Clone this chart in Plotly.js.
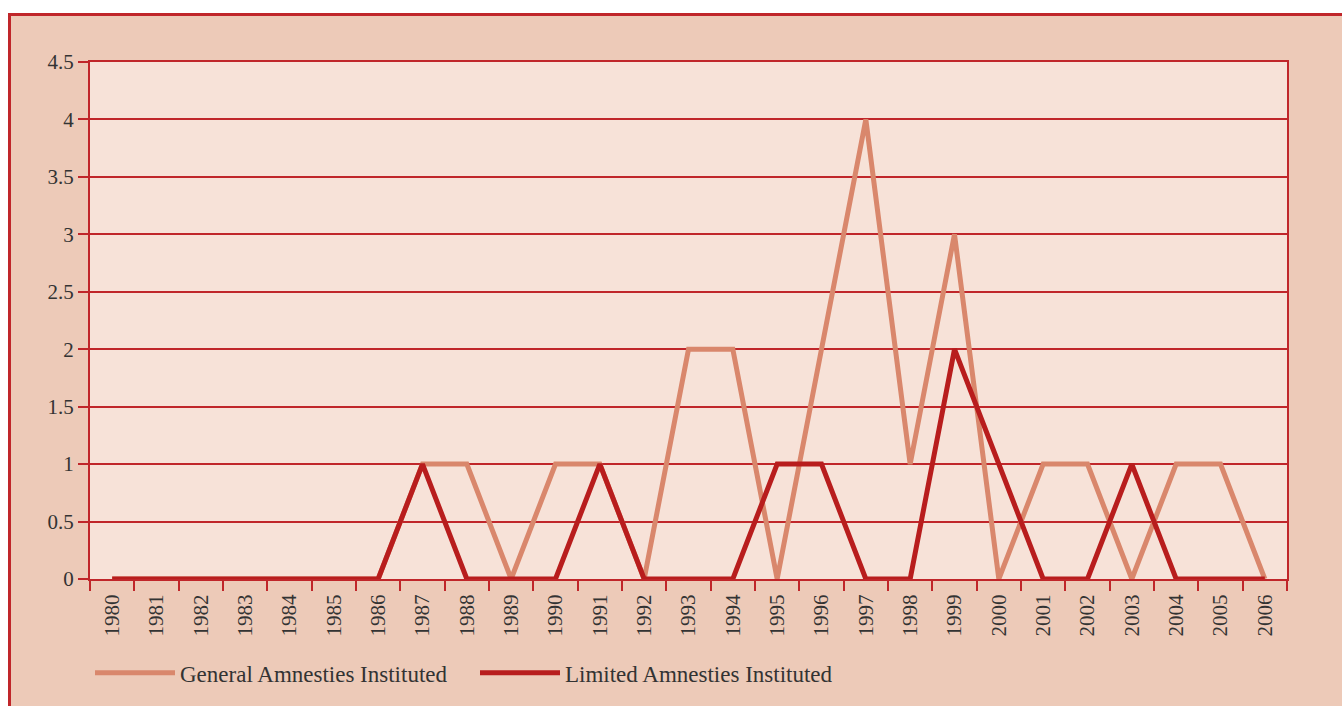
<!DOCTYPE html>
<html>
<head>
<meta charset="utf-8">
<script src="https://cdn.plot.ly/plotly-3.0.1.min.js"></script>
<style>
  html, body { margin: 0; padding: 0; background: #ffffff; width: 1342px; height: 706px; overflow: hidden; }
  #frame { position: absolute; left: 8px; top: 13px; width: 1400px; height: 760px;
           background: #edcab8; border-top: 3px solid #c0262a; border-left: 3px solid #c0262a; box-sizing: border-box; }
  #chart { position: absolute; left: 0; top: 0; width: 1342px; height: 706px; }
</style>
</head>
<body>
<div id="frame"></div>
<div id="chart"></div>
<script>
const years = ['1980','1981','1982','1983','1984','1985','1986','1987','1988','1989','1990','1991','1992','1993','1994','1995','1996','1997','1998','1999','2000','2001','2002','2003','2004','2005','2006'];
const generalAmnesties = [0,0,0,0,0,0,0,1,1,0,1,1,0,2,2,0,2,4,1,3,0,1,1,0,1,1,0];
const limitedAmnesties = [0,0,0,0,0,0,0,1,0,0,0,1,0,0,0,1,1,0,0,2,1,0,0,1,0,0,0];
const yTicks = [0,0.5,1,1.5,2,2.5,3,3.5,4,4.5];

const serif = 'Liberation Serif, DejaVu Serif, serif';
const red = '#c0262a';

const traces = [
  { x: years, y: generalAmnesties, type: 'scatter', mode: 'lines', name: 'General Amnesties Instituted',
    line: { color: '#d9876c', width: 5 } },
  { x: years, y: limitedAmnesties, type: 'scatter', mode: 'lines', name: 'Limited Amnesties Instituted',
    line: { color: '#b81d1d', width: 5 } }
];

const layout = {
  width: 1342, height: 706,
  margin: { l: 90, r: 55, t: 62, b: 125 },
  paper_bgcolor: 'rgba(0,0,0,0)',
  plot_bgcolor: '#f7e2d8',
  showlegend: true,
  legend: { orientation: 'h', x: 0.0, xanchor: 'left', y: -0.14, yanchor: 'top',
            bgcolor: 'rgba(0,0,0,0)', itemwidth: 80, entrywidth: 290, entrywidthmode: 'pixels',
            font: { family: serif, size: 23, color: '#333333' } },
  xaxis: { type: 'category', tickvals: years, ticktext: years, tickson: 'boundaries',
           range: [-0.5, years.length - 0.5],
           ticks: 'outside', ticklen: 10, tickwidth: 2, tickcolor: red, ticklabelstandoff: 5,
           tickangle: -90, tickfont: { family: serif, size: 21, color: '#333333' },
           showline: true, linecolor: red, linewidth: 2, mirror: true,
           showgrid: false, zeroline: false, fixedrange: true },
  yaxis: { range: [0, 4.5], tickvals: yTicks, ticktext: yTicks.map(String),
           ticks: 'outside', ticklen: 10, tickwidth: 2, tickcolor: red,
           tickfont: { family: serif, size: 21, color: '#333333' },
           showline: true, linecolor: red, linewidth: 2, mirror: true,
           showgrid: true, gridcolor: red, gridwidth: 2, zeroline: false, fixedrange: true }
};

Plotly.newPlot('chart', traces, layout, { displayModeBar: false, staticPlot: true });
</script>
</body>
</html>
